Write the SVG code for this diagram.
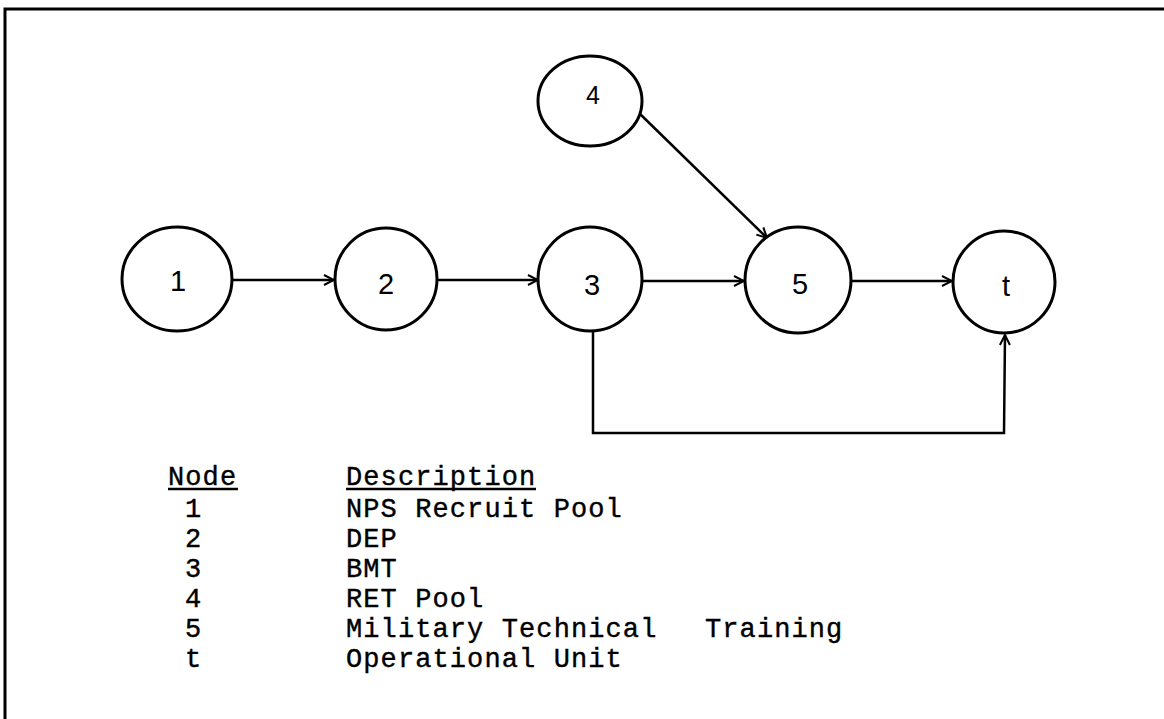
<svg xmlns="http://www.w3.org/2000/svg" width="1164" height="719" viewBox="0 0 1164 719">
  <style>
    .frame { fill: none; stroke: #000; stroke-width: 3; }
    .node ellipse { fill: #fff; stroke: #000; stroke-width: 3; }
    .node text { font-family: "Liberation Sans", Arial, sans-serif; font-size: 29px; text-anchor: middle; fill: #000; }
    .edge { fill: none; stroke: #000; stroke-width: 2.5; marker-end: url(#arrow); }
    .legend { font-family: "Liberation Mono", "Courier New", monospace; font-size: 27px; letter-spacing: 1.1px; fill: #000; stroke: #000; stroke-width: 0.4; }
    .uline { stroke: #000; stroke-width: 2.5; }
  </style>
  <defs>
    <marker id="arrow" viewBox="0 0 12 12" refX="11" refY="6" markerWidth="12" markerHeight="12" markerUnits="userSpaceOnUse" orient="auto">
      <path d="M1,1 L11,6 L1,11" fill="none" stroke="#000" stroke-width="2"/>
    </marker>
  </defs>

  <rect width="1164" height="719" fill="#fff"/>

  <!-- page frame: top and left rules -->
  <path class="frame" d="M5,719 L5,9 L1164,9"/>

  <!-- connectors -->
  <g id="edges">
    <line class="edge" x1="233" y1="280" x2="334" y2="280"/>
    <line class="edge" x1="438" y1="280" x2="538" y2="280"/>
    <line class="edge" x1="643" y1="281" x2="744" y2="281"/>
    <line class="edge" x1="852" y1="281" x2="952" y2="281"/>
    <line class="edge" x1="638" y1="112" x2="767" y2="238"/>
    <path class="edge" d="M593,331 L593,433 L1004,433 L1005,335"/>
  </g>

  <!-- nodes -->
  <g id="node-1" class="node">
    <ellipse cx="177" cy="279" rx="55" ry="52"/>
    <text x="178" y="291">1</text>
  </g>
  <g id="node-2" class="node">
    <ellipse cx="386" cy="279" rx="51" ry="51"/>
    <text x="386" y="294">2</text>
  </g>
  <g id="node-3" class="node">
    <ellipse cx="590" cy="279" rx="52" ry="52"/>
    <text x="592" y="295">3</text>
  </g>
  <g id="node-4" class="node">
    <ellipse cx="590" cy="101" rx="52" ry="45"/>
    <text x="593" y="104" style="font-size:25px">4</text>
  </g>
  <g id="node-5" class="node">
    <ellipse cx="798" cy="280" rx="53" ry="53"/>
    <text x="800" y="294">5</text>
  </g>
  <g id="node-t" class="node">
    <ellipse cx="1004" cy="282" rx="51" ry="51"/>
    <text x="1006" y="296">t</text>
  </g>

  <!-- legend table -->
  <g id="legend" class="legend">
    <text x="168" y="485">Node</text>
    <line class="uline" x1="168" y1="489" x2="238" y2="489"/>
    <text x="346" y="485">Description</text>
    <line class="uline" x1="346" y1="489" x2="536" y2="489"/>

    <text x="185" y="517">1</text>
    <text x="346" y="517">NPS Recruit Pool</text>
    <text x="185" y="547">2</text>
    <text x="346" y="547">DEP</text>
    <text x="185" y="577">3</text>
    <text x="346" y="577">BMT</text>
    <text x="185" y="607">4</text>
    <text x="346" y="607">RET Pool</text>
    <text x="185" y="637">5</text>
    <text x="346" y="637">Military Technical</text>
    <text x="705" y="637">Training</text>
    <text x="185" y="667">t</text>
    <text x="346" y="667">Operational Unit</text>
  </g>
</svg>
